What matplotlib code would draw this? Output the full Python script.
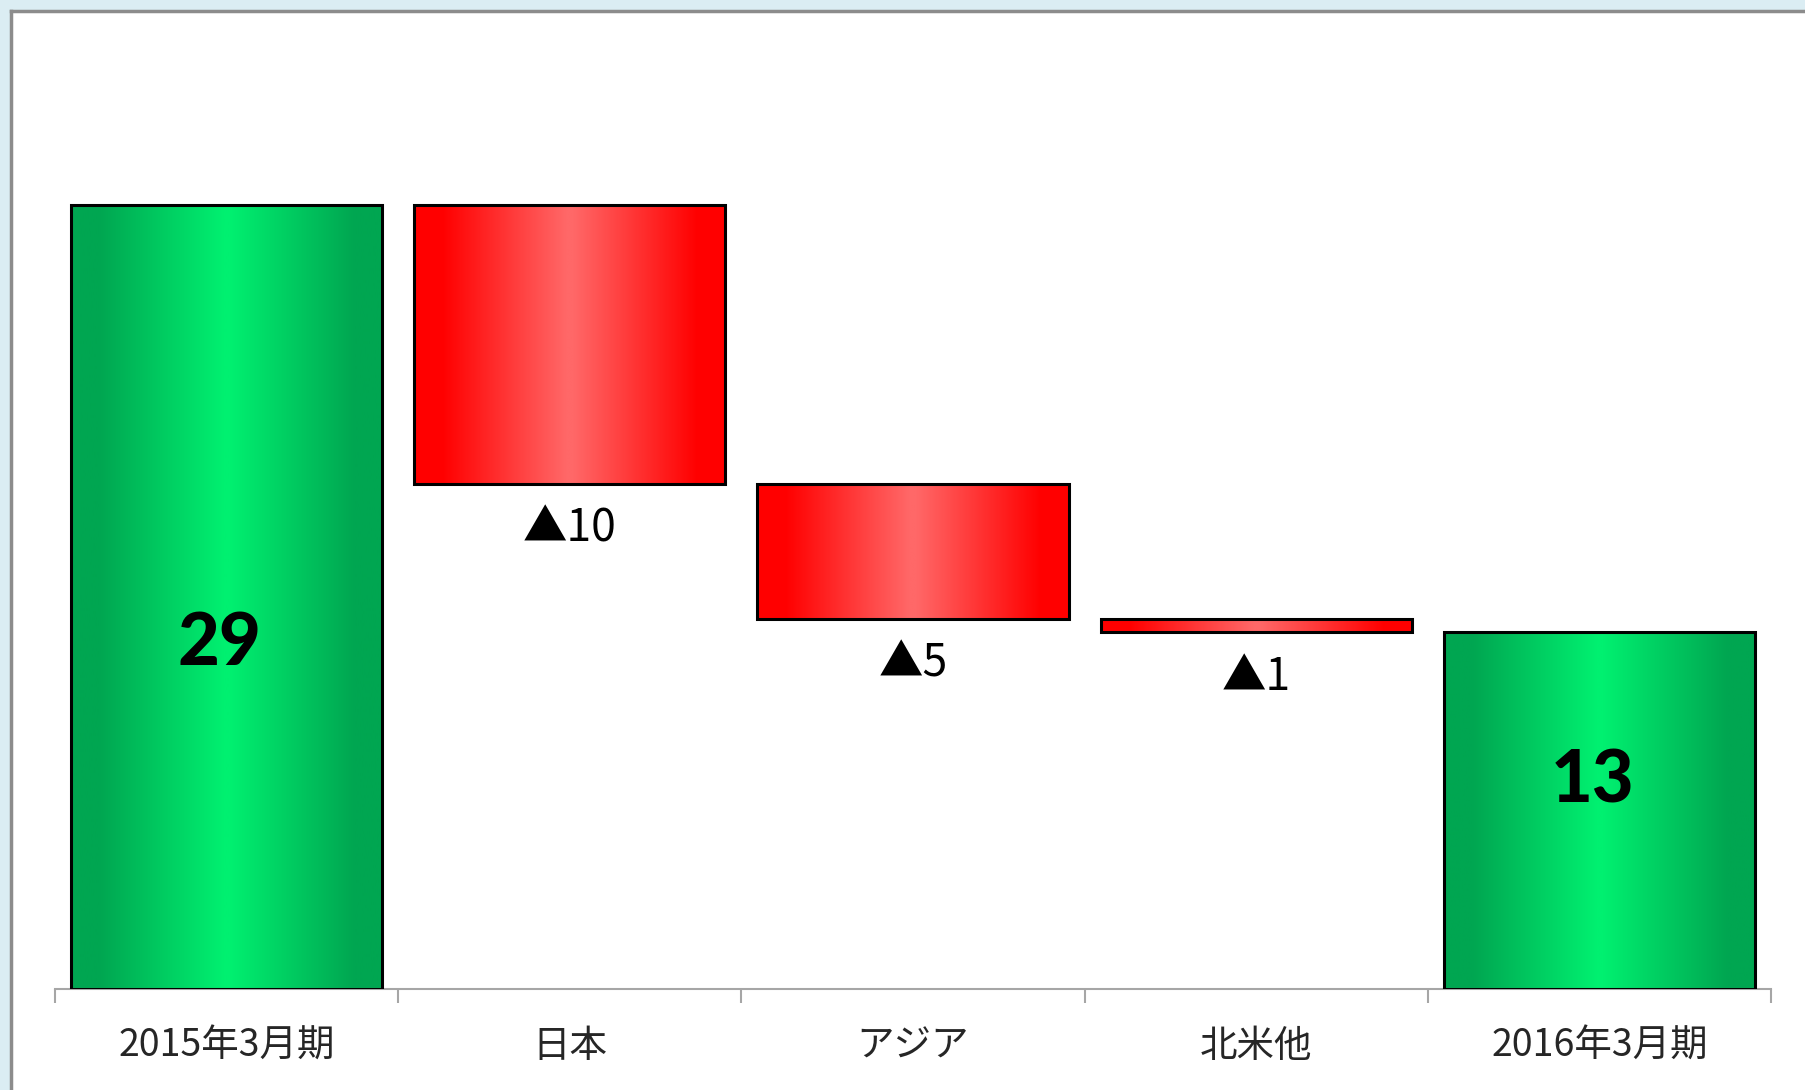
import numpy as np
import matplotlib.pyplot as plt
from matplotlib.patches import Rectangle
from matplotlib.lines import Line2D

# データ（億円）
categories = ['2015年3月期', '日本', 'アジア', '北米他', '2016年3月期']
start_value = 29.0
changes = [-10.3, -5.0, -0.5]
end_value = 13.2
value_labels = ['29', '▲10', '▲5', '▲1', '13']

plt.rcParams['font.family'] = ['Noto Sans CJK JP', 'DejaVu Sans']

W, H = 1806, 1090
fig = plt.figure(figsize=(W / 100, H / 100), dpi=100)
fig.patch.set_facecolor('#dbedf3')

# 白い枠（上と左にグレーの線）
fig.add_artist(Rectangle((11 / W, 0), 1, 1 - 11 / H, transform=fig.transFigure,
                         facecolor='white', edgecolor='none', zorder=0))
fig.add_artist(Line2D([11 / W, 11 / W], [0, 1 - 11 / H], transform=fig.transFigure,
                      color='#8c8c8c', lw=2.5))
fig.add_artist(Line2D([11 / W, 1], [1 - 11 / H, 1 - 11 / H], transform=fig.transFigure,
                      color='#8c8c8c', lw=2.5))

ax = fig.add_axes([55 / W, (H - 989) / H, (1771 - 55) / W, (989 - 50) / H])
ax.patch.set_alpha(0)

# ウォーターフォールの計算
x = np.arange(len(categories))
heights = [start_value]
bottoms = [0.0]
total = start_value
for c in changes:
    total += c
    heights.append(abs(c))
    bottoms.append(total if c < 0 else total - c)
heights.append(end_value)
bottoms.append(0.0)
is_total = [True, False, False, False, True]

bars = ax.bar(x, heights, bottom=bottoms, width=0.907, facecolor='none',
              edgecolor='black', linewidth=2.2, zorder=3)


def gradient(edge, center, n=300):
    t = np.abs(np.linspace(-1, 1, n))
    w = np.clip((t - 0.02) / 0.8, 0, 1)[:, None]
    edge = np.array(edge) / 255
    center = np.array(center) / 255
    return (center * (1 - w) + edge * w)[None, :, :]


green = gradient((0, 166, 81), (0, 240, 112))
red = gradient((255, 0, 0), (255, 104, 104))

for b, tot in zip(bars, is_total):
    x0, y0 = b.get_x(), b.get_y()
    ax.imshow(green if tot else red, extent=[x0, x0 + b.get_width(), y0, y0 + b.get_height()],
              aspect='auto', interpolation='bilinear', zorder=2)

# ラベル
for i, (b, lab, tot) in enumerate(zip(bars, value_labels, is_total)):
    cx = b.get_x() + b.get_width() / 2
    if tot:
        frac = 0.44 if i == 0 else 0.58
        ax.text(cx - 0.02, b.get_y() + b.get_height() * frac, lab, ha='center', va='center',
                fontsize=52, fontweight='black', family=['Lato', 'DejaVu Sans'], zorder=4)
    else:
        ax.annotate(lab, (cx, b.get_y()), xytext=(0, -45), textcoords='offset pixels',
                    ha='center', va='center', fontsize=32, color='black', zorder=4)

ax.set_xlim(-0.5, len(categories) - 0.5)
ax.set_ylim(0, 939 / 27.03)

for s in ['top', 'left', 'right']:
    ax.spines[s].set_visible(False)
ax.spines['bottom'].set_color('#a6a6a6')
ax.spines['bottom'].set_linewidth(1.5)
ax.set_yticks([])
ax.set_xticks(np.arange(-0.5, len(categories), 1))
ax.set_xticklabels([])
ax.tick_params(axis='x', which='major', length=10, width=1.5, color='#a6a6a6')
ax.set_xticks(x, minor=True)
ax.set_xticklabels(categories, minor=True, fontsize=27, color='#262626')
ax.tick_params(axis='x', which='minor', length=0, pad=27)

fig.savefig('out.png', dpi=100, facecolor=fig.get_facecolor())
